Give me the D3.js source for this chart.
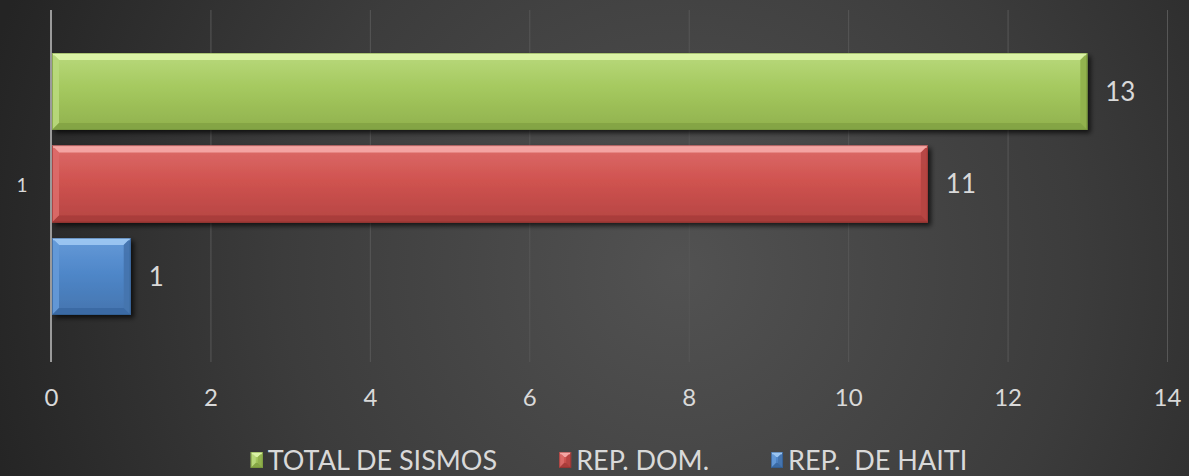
<!DOCTYPE html>
<html><head><meta charset="utf-8">
<script src="https://cdn.jsdelivr.net/npm/d3@7"></script>
<style>html,body{margin:0;padding:0;background:#2a2a2a;}svg{display:block;}</style>
</head><body>
<svg id="chart" width="1189" height="476"></svg>
<script>
const categories = ["1"];
const seriesNames = ["TOTAL DE SISMOS", "REP. DOM.", "REP.  DE HAITI"];
const seriesValues = [13, 11, 1];
const xTicks = [0, 2, 4, 6, 8, 10, 12, 14];
const palette = [
  {main:"#a5c95f", light:"#dcf4a8", mid:"#b9d97c", dark:"#84a444", edge:"#6f8d36", right:"#90b14d"},
  {main:"#d05350", light:"#f5a8a5", mid:"#dc6c69", dark:"#a83c3a", edge:"#8e2f2d", right:"#b54542"},
  {main:"#4f87c9", light:"#9cc6f2", mid:"#659ad8", dark:"#3a69a3", edge:"#2f5787", right:"#4474ae"}
];

const W = 1189, H = 476;
const svg = d3.select("#chart");
const defs = svg.append("defs");

const bg = defs.append("radialGradient").attr("id","bg")
  .attr("gradientUnits","userSpaceOnUse").attr("cx",680).attr("cy",270).attr("r",720);
bg.append("stop").attr("offset","0%").attr("stop-color","#525252");
bg.append("stop").attr("offset","55%").attr("stop-color","#3c3c3c");
bg.append("stop").attr("offset","100%").attr("stop-color","#242424");
svg.append("rect").attr("width",W).attr("height",H).attr("fill","url(#bg)");

const shadow = defs.append("filter").attr("id","shadow").attr("x","-5%").attr("y","-20%").attr("width","115%").attr("height","160%");
shadow.append("feGaussianBlur").attr("in","SourceAlpha").attr("stdDeviation",2.5).attr("result","b");
shadow.append("feOffset").attr("in","b").attr("dx",3).attr("dy",3).attr("result","o");
shadow.append("feComponentTransfer").attr("in","o").attr("result","s")
  .append("feFuncA").attr("type","linear").attr("slope",0.7);
const fm = shadow.append("feMerge");
fm.append("feMergeNode").attr("in","s");
fm.append("feMergeNode").attr("in","SourceGraphic");

palette.forEach((p,i)=>{
  const g = defs.append("linearGradient").attr("id","fill"+i).attr("x1",0).attr("y1",0).attr("x2",0).attr("y2",1);
  g.append("stop").attr("offset","0%").attr("stop-color",p.mid);
  g.append("stop").attr("offset","45%").attr("stop-color",p.main);
  g.append("stop").attr("offset","100%").attr("stop-color",p.right);
});

const x = d3.scaleLinear().domain([0, 14]).range([51, 1167]);
const yCat = d3.scaleBand().domain(categories).range([10, 362]);
const ySer = d3.scaleBand().domain(seriesNames).range([53, 315]).paddingInner(0.168);

const plotTop = 10, plotBottom = 362;

// gridlines
svg.append("g").selectAll("line").data(xTicks.filter(t=>t>0)).join("line")
  .attr("x1",d=>x(d)+0.5).attr("x2",d=>x(d)+0.5)
  .attr("y1",plotTop).attr("y2",plotBottom)
  .attr("stroke","#575757").attr("stroke-width",1);

const fontFam = "Lato, 'Open Sans', sans-serif";
function bevelRect(g, x0, y0, x1, y1, p, i, b, useShadow){
  const grp = g.append("g");
  if (useShadow) grp.attr("filter","url(#shadow)");
  grp.append("rect").attr("x",x0).attr("y",y0).attr("width",x1-x0).attr("height",y1-y0)
    .attr("fill","url(#fill"+i+")");
  const poly = (pts, fill, op) => grp.append("polygon")
    .attr("points", pts.map(q=>q.join(",")).join(" ")).attr("fill",fill).attr("opacity",op);
  poly([[x0,y0],[x1,y0],[x1-b,y0+b],[x0+b,y0+b]], p.light, 0.95);
  poly([[x0,y0],[x0+b,y0+b],[x0+b,y1-b],[x0,y1]], p.mid, 0.9);
  poly([[x1,y0],[x1,y1],[x1-b,y1-b],[x1-b,y0+b]], p.right, 0.95);
  poly([[x0,y1],[x1,y1],[x1-b,y1-b],[x0+b,y1-b]], p.dark, 0.95);
  grp.append("rect").attr("x",x0+0.5).attr("y",y0+0.5).attr("width",x1-x0-1).attr("height",y1-y0-1)
    .attr("fill","none").attr("stroke",p.edge).attr("stroke-width",1).attr("opacity",0.6);
  grp.append("line").attr("x1",x0+1).attr("x2",x1-1).attr("y1",y0+1.5).attr("y2",y0+1.5)
    .attr("stroke",p.light).attr("stroke-width",1.5);
}

const barsG = svg.append("g");
categories.forEach(cat=>{
  seriesNames.forEach((s,i)=>{
    const v = seriesValues[i];
    const y0 = ySer(s), y1 = ySer(s)+ySer.bandwidth();
    bevelRect(barsG, x(0)+1, y0, x(v), y1, palette[i], i, 7, true);
    svg.append("text").attr("x", x(v)+18).attr("y", (y0+y1)/2)
      .attr("dy","0.36em").attr("fill","#d9d9d9")
      .style("font-family",fontFam).style("font-size","26px").text(v);
  });
});

// axis line at 0
svg.append("line").attr("x1",x(0)).attr("x2",x(0)).attr("y1",plotTop).attr("y2",plotBottom)
  .attr("stroke","#9a9a9a").attr("stroke-width",2);

// x axis labels
const xAxis = d3.axisBottom(x).tickValues(xTicks).tickSize(0).tickPadding(0);
const xg = svg.append("g").attr("transform",`translate(0,${plotBottom+35})`).call(xAxis);
xg.select(".domain").remove();
xg.selectAll("text").attr("fill","#d9d9d9").attr("dy","0.36em")
  .style("font-family",fontFam).style("font-size","24px");

// category axis label
const yAxis = d3.axisLeft(yCat).tickSize(0).tickPadding(0);
const yg = svg.append("g").attr("transform",`translate(22,0)`).call(yAxis);
yg.select(".domain").remove();
yg.selectAll("text").attr("fill","#d9d9d9").attr("text-anchor","middle")
  .style("font-family",fontFam).style("font-size","19px");

// legend
const legend = svg.append("g");
const legendY = 460;
const items = [];
seriesNames.forEach((s,i)=>{
  const it = legend.append("g");
  bevelRect(it, 0, -8, 12, 8, palette[i], i, 5, false);
  const t = it.append("text").attr("x",17).attr("y",0).attr("dy","0.36em").attr("fill","#d9d9d9")
    .style("font-family",fontFam).style("font-size","27px").style("white-space","pre").text(s);
  const w = 17 + t.node().getComputedTextLength();
  items.push({it, w});
});
const gap = 62;
const total = d3.sum(items, d=>d.w) + gap*(items.length-1);
let pos = 609 - total/2;
items.forEach(d=>{ d.it.attr("transform",`translate(${pos},${legendY})`); pos += d.w + gap; });
</script>
</body></html>
